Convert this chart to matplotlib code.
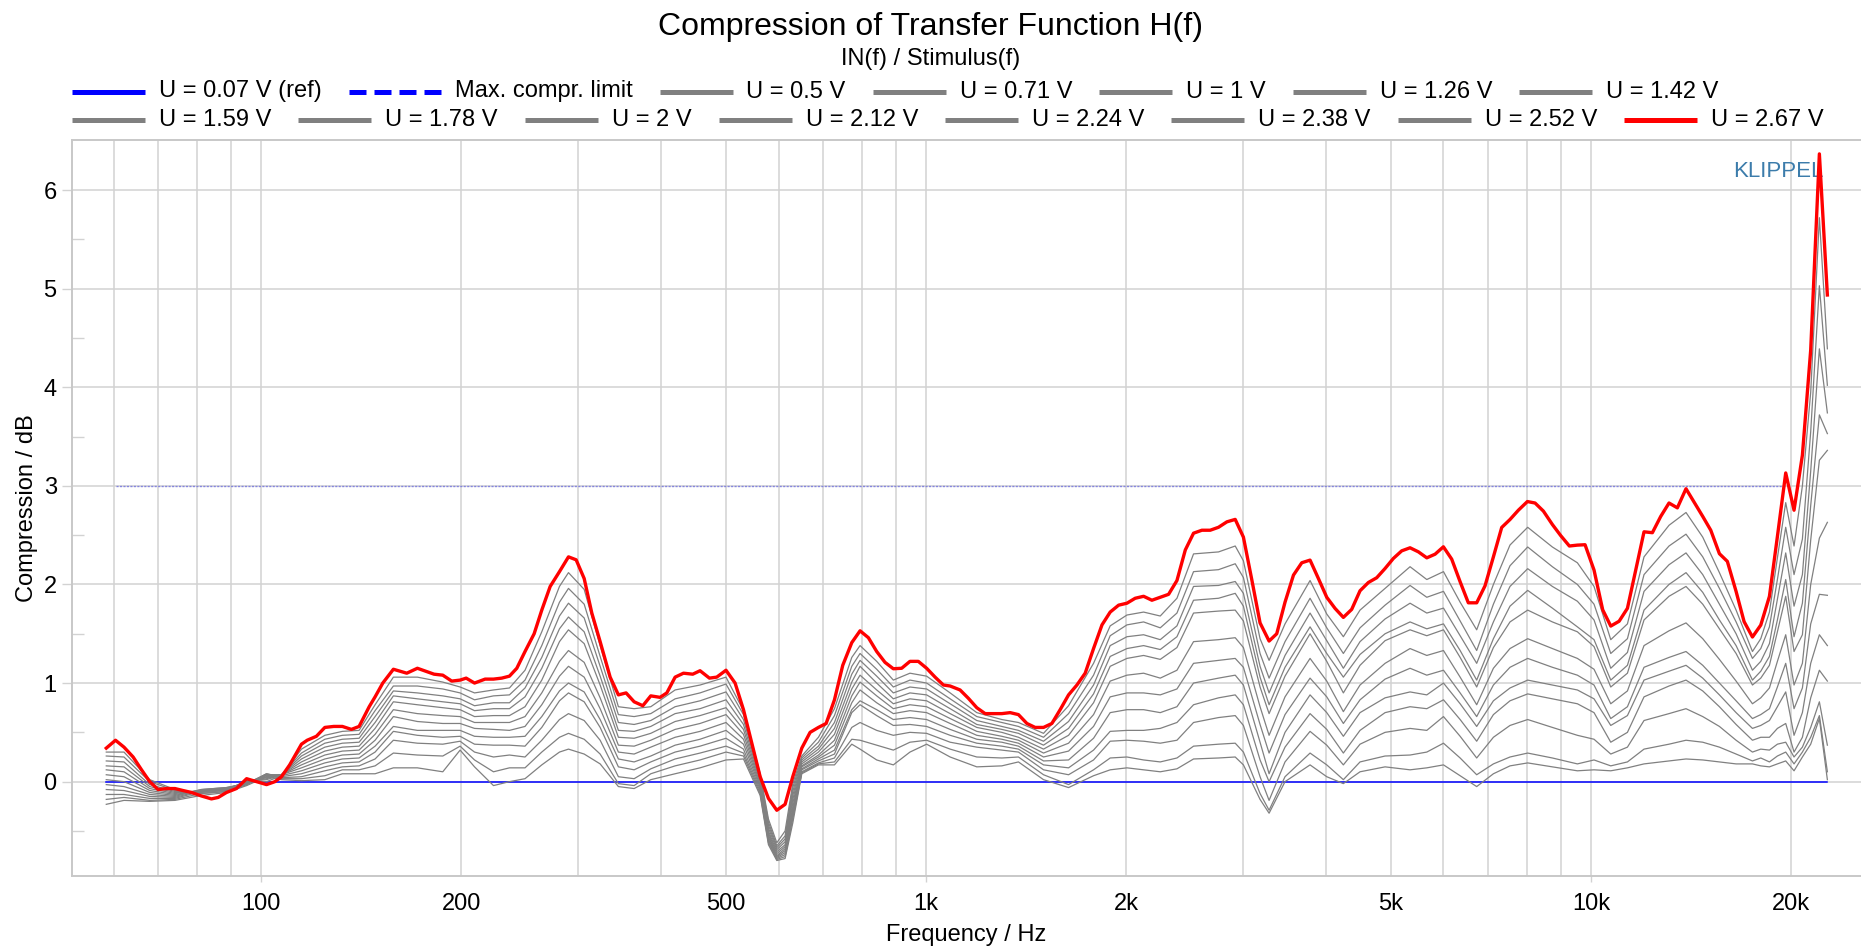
import matplotlib
matplotlib.use("Agg")
import matplotlib.pyplot as plt
from matplotlib.lines import Line2D
from matplotlib.ticker import FixedLocator, FuncFormatter
from matplotlib.offsetbox import DrawingArea, TextArea, HPacker, AnchoredOffsetbox

plt.rcParams['font.family'] = ['Liberation Sans', 'DejaVu Sans']

# ---- data ----
ref_freq = [58.5, 22670]
ref_db = [0.0, 0.0]

limit_freq = [60.4, 19625]
limit_db = [3.0, 3.0]

red_freq = [58.5, 60.4, 62.2, 64.2, 66.1, 68.0, 70.0, 72.1, 74.2, 76.3, 78.6, 81.3, 84.2, 86.2,
            88.7, 91.8, 95.1, 98.4, 101.9, 104.9, 107.3, 110.4, 115.0, 117.3, 121.1, 124.7, 128.6,
            132.5, 136.7, 140.4, 145.4, 148.4, 152.4, 158.1, 165.6, 171.8, 182, 187.6, 193.5, 199.2,
            203.4, 209.4, 217.2, 223.6, 230.1, 236.3, 242.4, 249.4, 257.4, 264.3, 272.1, 281, 289.9,
            297.7, 306.1, 314.3, 323.5, 334.9, 344.6, 353.9, 363.9, 375, 385.5, 398.1, 407.5, 419.4,
            431.7, 445.8, 457.2, 472.3, 484.4, 500.2, 516.2, 531.4, 546.9, 563, 579.4, 596.4, 613.8,
            630.3, 650.3, 669.3, 688.9, 707.5, 728.2, 749.4, 773.2, 795.7, 819, 842.9, 867.5, 892.9,
            919, 945.8, 973.5, 1002, 1031.8, 1061.9, 1087, 1125, 1158, 1192, 1227, 1263, 1300, 1338,
            1377, 1418, 1459, 1502, 1546, 1591, 1638, 1686, 1735, 1786, 1839, 1892, 1948, 2005, 2063,
            2124, 2186, 2250, 2316, 2384, 2454, 2525, 2599, 2675, 2753, 2834, 2917, 3001, 3089, 3179,
            3280, 3368, 3466, 3569, 3673, 3780, 3891, 4005, 4122, 4242, 4366, 4494, 4626, 4761, 4901,
            5044, 5192, 5344, 5500, 5663, 5828, 5998, 6173, 6356, 6539, 6731, 6928, 7132, 7340, 7554,
            7776, 8023, 8239, 8480, 8748, 9003, 9278, 9539, 9796, 10105, 10413, 10708, 11022, 11344,
            11676, 12015, 12368, 12730, 13101, 13485, 13895, 14288, 14724, 15139, 15599, 16034, 16527,
            16991, 17490, 18001, 18549, 19068, 19625, 20199, 20792, 21399, 22051, 22670]
red_db = [0.34, 0.42, 0.35, 0.25, 0.12, 0.00, -0.08, -0.07, -0.07, -0.09, -0.11, -0.145, -0.175, -0.16,
          -0.11, -0.07, 0.03, 0.00, -0.03, 0.00, 0.05, 0.17, 0.38, 0.42, 0.46, 0.55, 0.56,
          0.56, 0.53, 0.56, 0.76, 0.86, 1.00, 1.14, 1.10, 1.15, 1.09, 1.08, 1.02, 1.03,
          1.05, 1.00, 1.04, 1.04, 1.05, 1.07, 1.15, 1.32, 1.50, 1.74, 1.98, 2.13, 2.28,
          2.25, 2.06, 1.71, 1.42, 1.06, 0.88, 0.90, 0.81, 0.77, 0.87, 0.855, 0.90, 1.06,
          1.10, 1.09, 1.125, 1.05, 1.06, 1.13, 1.00, 0.73, 0.39, 0.05, -0.17, -0.29, -0.23,
          0.05, 0.34, 0.50, 0.55, 0.59, 0.83, 1.18, 1.41, 1.53, 1.46, 1.32, 1.21, 1.145,
          1.15, 1.22, 1.22, 1.15, 1.06, 0.98, 0.97, 0.93, 0.845, 0.75, 0.69, 0.69, 0.69, 0.70,
          0.68, 0.59, 0.55, 0.55, 0.59, 0.73, 0.88, 0.98, 1.10, 1.35, 1.59, 1.72, 1.79, 1.81, 1.86,
          1.88, 1.84, 1.87, 1.90, 2.04, 2.35, 2.52, 2.55, 2.55, 2.58, 2.635, 2.66, 2.48, 2.05, 1.61,
          1.426, 1.50, 1.82, 2.095, 2.22, 2.247, 2.06, 1.87, 1.757, 1.666, 1.747, 1.936, 2.02, 2.068, 2.162,
          2.264, 2.341, 2.372, 2.331, 2.27, 2.307, 2.382, 2.257, 2.027, 1.814, 1.814, 1.986, 2.28, 2.578, 2.659,
          2.753, 2.841, 2.826, 2.744, 2.608, 2.496, 2.39, 2.399, 2.403, 2.146, 1.743, 1.578, 1.627, 1.758,
          2.146, 2.534, 2.525, 2.69, 2.826, 2.777, 2.971, 2.835, 2.69, 2.55, 2.312, 2.234, 1.929,
          1.623, 1.467, 1.588, 1.879, 2.486, 3.131, 2.753, 3.311, 4.378, 6.367, 4.936]

gray_freq = [58.5, 62.2, 68.0, 74.2, 81.3, 88.7, 95.1, 101.9, 107.3, 115,
             124.7, 132.5, 140.4, 148.4, 158.1, 171.8, 187.6, 199.2, 209.4, 223.6,
             236.3, 249.4, 264.3, 281, 289.9, 306.1, 323.5, 344.6, 363.9, 385.5,
             419.4, 457.2, 500.2, 531.4, 563, 579.4, 596.4, 613.8, 630.3, 650.3,
             688.9, 728.2, 773.2, 795.7, 842.9, 892.9, 945.8, 1002, 1087, 1192,
             1300, 1377, 1502, 1638, 1786, 1892, 2005, 2124, 2250, 2384,
             2525, 2753, 2917, 3001, 3179, 3280, 3466, 3780, 4005, 4242,
             4494, 4901, 5344, 5663, 6000, 6356, 6731, 7132, 7554, 8031,
             8748, 9539, 10105, 10708, 11344, 12015, 13101, 13895, 14724, 15599,
             16527, 17490, 18001, 18549, 19068, 19625, 20199, 20792, 21399, 22051,
             22670]

u_050 = [-0.23, -0.19, -0.20, -0.19, -0.14, -0.11, -0.04, 0.05, 0.02, 0.01,
         0.02, 0.08, 0.08, 0.08, 0.14, 0.14, 0.10, 0.32, 0.15, -0.04,
         0.00, 0.03, 0.17, 0.30, 0.33, 0.28, 0.18, -0.05, -0.07, 0.02,
         0.08, 0.14, 0.22, 0.23, -0.14, -0.64, -0.80, -0.78, -0.42, 0.08,
         0.17, 0.17, 0.38, 0.33, 0.22, 0.17, 0.30, 0.38, 0.25, 0.15,
         0.16, 0.20, 0.02, -0.06, 0.06, 0.12, 0.14, 0.12, 0.10, 0.13,
         0.23, 0.24, 0.25, 0.17, -0.18, -0.32, 0.00, 0.17, 0.05, -0.02,
         0.10, 0.15, 0.12, 0.14, 0.17, 0.06, -0.05, 0.08, 0.16, 0.19,
         0.15, 0.11, 0.12, 0.11, 0.14, 0.18, 0.21, 0.23, 0.22, 0.20,
         0.18, 0.18, 0.16, 0.15, 0.18, 0.21, 0.11, 0.25, 0.38, 0.64,
         0.02]
u_071 = [-0.18, -0.16, -0.19, -0.18, -0.12, -0.10, -0.03, 0.07, 0.03, 0.03,
         0.06, 0.12, 0.12, 0.16, 0.29, 0.27, 0.26, 0.36, 0.22, 0.10,
         0.14, 0.14, 0.30, 0.45, 0.49, 0.43, 0.28, -0.02, -0.04, 0.08,
         0.16, 0.22, 0.30, 0.26, -0.12, -0.62, -0.79, -0.76, -0.38, 0.09,
         0.18, 0.20, 0.43, 0.42, 0.37, 0.32, 0.40, 0.42, 0.33, 0.25,
         0.24, 0.25, 0.07, -0.03, 0.12, 0.24, 0.25, 0.22, 0.20, 0.24,
         0.36, 0.38, 0.39, 0.30, -0.12, -0.29, 0.05, 0.29, 0.17, 0.02,
         0.20, 0.26, 0.27, 0.30, 0.39, 0.24, 0.07, 0.18, 0.25, 0.29,
         0.24, 0.18, 0.22, 0.16, 0.20, 0.33, 0.38, 0.42, 0.40, 0.35,
         0.28, 0.21, 0.24, 0.20, 0.26, 0.30, 0.18, 0.30, 0.45, 0.67,
         0.10]
u_100 = [-0.13, -0.13, -0.17, -0.17, -0.10, -0.08, -0.03, 0.08, 0.04, 0.05,
         0.11, 0.15, 0.16, 0.23, 0.42, 0.39, 0.38, 0.41, 0.30, 0.25,
         0.27, 0.25, 0.42, 0.63, 0.69, 0.62, 0.42, 0.05, 0.03, 0.13,
         0.23, 0.29, 0.36, 0.29, -0.10, -0.60, -0.78, -0.74, -0.35, 0.10,
         0.19, 0.24, 0.55, 0.60, 0.52, 0.47, 0.50, 0.49, 0.40, 0.35,
         0.32, 0.30, 0.12, 0.07, 0.22, 0.41, 0.42, 0.41, 0.39, 0.42,
         0.60, 0.65, 0.67, 0.57, 0.05, -0.19, 0.20, 0.51, 0.37, 0.17,
         0.38, 0.50, 0.54, 0.52, 0.66, 0.46, 0.24, 0.45, 0.57, 0.63,
         0.55, 0.47, 0.43, 0.28, 0.35, 0.62, 0.69, 0.74, 0.66, 0.56,
         0.42, 0.30, 0.33, 0.32, 0.38, 0.40, 0.25, 0.35, 0.55, 0.81,
         0.37]
u_126 = [-0.08, -0.09, -0.15, -0.16, -0.09, -0.07, -0.02, 0.08, 0.05, 0.08,
         0.15, 0.19, 0.20, 0.30, 0.51, 0.47, 0.45, 0.46, 0.38, 0.37,
         0.37, 0.36, 0.55, 0.82, 0.90, 0.81, 0.55, 0.15, 0.12, 0.20,
         0.30, 0.36, 0.44, 0.33, -0.08, -0.58, -0.77, -0.72, -0.32, 0.12,
         0.21, 0.28, 0.70, 0.78, 0.67, 0.57, 0.58, 0.56, 0.47, 0.39,
         0.36, 0.33, 0.17, 0.14, 0.32, 0.51, 0.52, 0.52, 0.54, 0.60,
         0.78, 0.85, 0.88, 0.78, 0.22, 0.00, 0.35, 0.69, 0.53, 0.29,
         0.52, 0.70, 0.76, 0.74, 0.83, 0.63, 0.41, 0.68, 0.82, 0.89,
         0.84, 0.79, 0.70, 0.40, 0.50, 0.86, 0.97, 1.03, 0.92, 0.76,
         0.58, 0.42, 0.45, 0.45, 0.54, 0.59, 0.30, 0.45, 0.85, 1.13,
         1.02]
u_142 = [-0.03, -0.05, -0.13, -0.15, -0.08, -0.06, -0.02, 0.07, 0.06, 0.11,
         0.19, 0.23, 0.24, 0.36, 0.56, 0.52, 0.52, 0.52, 0.46, 0.45,
         0.45, 0.46, 0.66, 0.92, 1.00, 0.91, 0.63, 0.23, 0.20, 0.26,
         0.37, 0.43, 0.52, 0.38, -0.06, -0.56, -0.76, -0.70, -0.29, 0.13,
         0.23, 0.32, 0.73, 0.82, 0.73, 0.63, 0.65, 0.63, 0.53, 0.43,
         0.40, 0.36, 0.21, 0.22, 0.44, 0.70, 0.73, 0.73, 0.70, 0.76,
         1.00, 1.05, 1.08, 0.98, 0.40, 0.08, 0.50, 0.88, 0.70, 0.46,
         0.70, 0.85, 0.91, 0.88, 1.00, 0.79, 0.56, 0.82, 0.95, 1.03,
         0.98, 0.93, 0.84, 0.57, 0.67, 1.03, 1.12, 1.18, 1.05, 0.88,
         0.70, 0.54, 0.57, 0.62, 0.76, 0.91, 0.47, 0.70, 1.20, 1.49,
         1.38]
u_159 = [0.02, 0.00, -0.11, -0.14, -0.08, -0.06, -0.02, 0.07, 0.07, 0.14,
         0.23, 0.27, 0.28, 0.42, 0.66, 0.61, 0.59, 0.59, 0.54, 0.53,
         0.52, 0.56, 0.78, 1.07, 1.17, 1.06, 0.74, 0.30, 0.28, 0.35,
         0.45, 0.51, 0.60, 0.43, -0.04, -0.54, -0.75, -0.68, -0.26, 0.15,
         0.25, 0.37, 0.80, 0.93, 0.80, 0.69, 0.72, 0.70, 0.59, 0.47,
         0.43, 0.39, 0.25, 0.31, 0.56, 0.86, 0.90, 0.90, 0.88, 0.94,
         1.20, 1.23, 1.25, 1.16, 0.58, 0.29, 0.68, 1.05, 0.86, 0.59,
         0.83, 1.04, 1.15, 1.08, 1.13, 0.90, 0.66, 0.98, 1.16, 1.25,
         1.16, 1.08, 0.98, 0.64, 0.76, 1.16, 1.26, 1.32, 1.18, 1.00,
         0.82, 0.64, 0.68, 0.74, 0.96, 1.20, 0.74, 0.95, 1.60, 1.90,
         1.89]
u_178 = [0.07, 0.05, -0.09, -0.13, -0.09, -0.07, -0.01, 0.06, 0.07, 0.17,
         0.27, 0.31, 0.32, 0.48, 0.73, 0.69, 0.67, 0.66, 0.60, 0.60,
         0.60, 0.66, 0.90, 1.22, 1.33, 1.21, 0.85, 0.37, 0.36, 0.42,
         0.53, 0.59, 0.68, 0.48, -0.02, -0.52, -0.73, -0.66, -0.22, 0.16,
         0.27, 0.42, 0.87, 1.01, 0.87, 0.74, 0.78, 0.76, 0.64, 0.51,
         0.46, 0.42, 0.29, 0.39, 0.68, 1.02, 1.08, 1.10, 1.05, 1.13,
         1.42, 1.44, 1.46, 1.36, 0.76, 0.47, 0.86, 1.25, 1.02, 0.71,
         0.98, 1.20, 1.35, 1.28, 1.33, 1.06, 0.78, 1.15, 1.35, 1.45,
         1.35, 1.25, 1.14, 0.79, 0.92, 1.38, 1.53, 1.61, 1.45, 1.24,
         1.02, 0.79, 0.85, 0.95, 1.22, 1.49, 0.98, 1.20, 2.00, 2.47,
         2.63]
u_200 = [0.12, 0.10, -0.07, -0.12, -0.09, -0.07, -0.01, 0.05, 0.07, 0.20,
         0.31, 0.35, 0.36, 0.54, 0.81, 0.78, 0.75, 0.73, 0.66, 0.67,
         0.67, 0.76, 1.03, 1.42, 1.54, 1.40, 0.98, 0.45, 0.44, 0.49,
         0.61, 0.67, 0.75, 0.53, 0.00, -0.50, -0.71, -0.64, -0.18, 0.18,
         0.30, 0.48, 0.94, 1.08, 0.93, 0.79, 0.84, 0.82, 0.69, 0.55,
         0.50, 0.45, 0.33, 0.47, 0.80, 1.17, 1.25, 1.28, 1.24, 1.36,
         1.71, 1.73, 1.74, 1.63, 0.96, 0.69, 1.07, 1.50, 1.22, 0.90,
         1.18, 1.43, 1.54, 1.48, 1.54, 1.26, 0.96, 1.36, 1.62, 1.74,
         1.62, 1.52, 1.37, 0.96, 1.10, 1.64, 1.88, 1.98, 1.80, 1.55,
         1.30, 0.98, 1.05, 1.18, 1.52, 1.88, 1.32, 1.49, 2.45, 3.26,
         3.36]
u_212 = [0.16, 0.15, -0.05, -0.11, -0.10, -0.08, 0.00, 0.04, 0.07, 0.23,
         0.35, 0.39, 0.40, 0.60, 0.87, 0.84, 0.81, 0.79, 0.72, 0.74,
         0.74, 0.86, 1.15, 1.55, 1.67, 1.52, 1.07, 0.52, 0.51, 0.56,
         0.69, 0.74, 0.83, 0.58, 0.02, -0.47, -0.69, -0.61, -0.14, 0.20,
         0.33, 0.54, 1.01, 1.17, 1.00, 0.84, 0.90, 0.88, 0.74, 0.58,
         0.53, 0.49, 0.37, 0.54, 0.89, 1.27, 1.35, 1.38, 1.34, 1.47,
         1.84, 1.86, 1.91, 1.78, 1.06, 0.78, 1.16, 1.57, 1.30, 1.06,
         1.29, 1.50, 1.62, 1.55, 1.60, 1.33, 1.03, 1.45, 1.78, 1.94,
         1.76, 1.57, 1.44, 1.03, 1.18, 1.74, 2.00, 2.12, 1.92, 1.64,
         1.38, 1.03, 1.12, 1.27, 1.64, 2.05, 1.47, 1.81, 2.80, 3.72,
         3.53]
u_224 = [0.21, 0.20, -0.03, -0.10, -0.10, -0.08, 0.00, 0.03, 0.07, 0.26,
         0.39, 0.43, 0.44, 0.66, 0.92, 0.90, 0.87, 0.84, 0.77, 0.80,
         0.80, 0.95, 1.26, 1.68, 1.81, 1.66, 1.17, 0.60, 0.58, 0.62,
         0.76, 0.82, 0.91, 0.63, 0.04, -0.44, -0.67, -0.58, -0.10, 0.22,
         0.36, 0.60, 1.09, 1.23, 1.07, 0.90, 0.96, 0.94, 0.79, 0.62,
         0.56, 0.52, 0.41, 0.61, 0.98, 1.38, 1.47, 1.49, 1.44, 1.58,
         1.98, 1.99, 2.03, 1.91, 1.17, 0.90, 1.28, 1.71, 1.43, 1.15,
         1.42, 1.65, 1.81, 1.71, 1.76, 1.48, 1.20, 1.62, 1.98, 2.16,
         1.98, 1.83, 1.64, 1.15, 1.31, 1.93, 2.20, 2.32, 2.10, 1.80,
         1.50, 1.13, 1.22, 1.40, 1.85, 2.32, 1.78, 2.10, 3.15, 4.39,
         3.74]
u_238 = [0.26, 0.25, 0.00, -0.09, -0.11, -0.09, 0.01, 0.02, 0.07, 0.29,
         0.43, 0.47, 0.48, 0.72, 0.97, 0.97, 0.94, 0.90, 0.83, 0.87,
         0.88, 1.03, 1.38, 1.82, 1.96, 1.80, 1.27, 0.68, 0.66, 0.69,
         0.84, 0.90, 0.99, 0.68, 0.06, -0.41, -0.65, -0.55, -0.06, 0.24,
         0.40, 0.67, 1.17, 1.30, 1.14, 0.96, 1.03, 1.00, 0.84, 0.66,
         0.60, 0.56, 0.45, 0.69, 1.08, 1.48, 1.59, 1.62, 1.56, 1.71,
         2.13, 2.15, 2.21, 2.07, 1.30, 1.05, 1.42, 1.86, 1.56, 1.30,
         1.56, 1.79, 1.99, 1.87, 1.93, 1.63, 1.33, 1.80, 2.19, 2.38,
         2.18, 2.00, 1.80, 1.30, 1.45, 2.10, 2.39, 2.51, 2.28, 1.96,
         1.62, 1.25, 1.35, 1.57, 2.05, 2.58, 2.10, 2.46, 3.55, 5.03,
         4.02]
u_252 = [0.30, 0.30, 0.02, -0.08, -0.12, -0.10, 0.02, 0.00, 0.06, 0.33,
         0.47, 0.51, 0.52, 0.78, 1.06, 1.06, 1.01, 0.96, 0.90, 0.93,
         0.95, 1.13, 1.52, 1.98, 2.12, 1.95, 1.38, 0.76, 0.74, 0.76,
         0.93, 0.98, 1.06, 0.72, 0.08, -0.38, -0.62, -0.50, -0.02, 0.26,
         0.45, 0.74, 1.26, 1.38, 1.22, 1.03, 1.10, 1.07, 0.90, 0.70,
         0.63, 0.60, 0.49, 0.77, 1.20, 1.58, 1.69, 1.72, 1.68, 1.86,
         2.31, 2.33, 2.39, 2.24, 1.45, 1.23, 1.60, 2.04, 1.70, 1.47,
         1.74, 1.96, 2.18, 2.05, 2.13, 1.82, 1.54, 2.00, 2.40, 2.58,
         2.38, 2.22, 1.98, 1.44, 1.60, 2.28, 2.60, 2.73, 2.48, 2.12,
         1.74, 1.32, 1.45, 1.72, 2.27, 2.83, 2.39, 3.00, 3.95, 5.72,
         4.39]

gray_series = [u_050, u_071, u_100, u_126, u_142, u_159, u_178, u_200,
               u_212, u_224, u_238, u_252]
gray_labels = ["U = 0.5 V", "U = 0.71 V", "U = 1 V", "U = 1.26 V", "U = 1.42 V",
               "U = 1.59 V", "U = 1.78 V", "U = 2 V", "U = 2.12 V", "U = 2.24 V",
               "U = 2.38 V", "U = 2.52 V"]

x_major = [100, 1000, 10000]
x_major_labels = ["100", "1k", "10k"]
x_minor = [60, 70, 80, 90, 200, 300, 400, 500, 600, 700, 800, 900,
           2000, 3000, 4000, 5000, 6000, 7000, 8000, 9000, 20000]
x_minor_labels = {200: "200", 500: "500", 2000: "2k", 5000: "5k", 20000: "20k"}

GRAY = "#808080"
BLUE = "#0000ff"
RED = "#ff0000"
GRID = "#d2d2d2"
FS = 17

fig = plt.figure(figsize=(18.61, 9.5), dpi=100)
ax = fig.add_axes([0.03853, 0.07758, 0.96147, 0.77526])
ax.set_xscale("log")

ax.plot(ref_freq, ref_db, color=BLUE, lw=1.1, zorder=3)
ax.plot(limit_freq, limit_db, color="#7070e0", lw=1.0, ls=(0, (1.5, 1)), alpha=0.8, zorder=3)
for vals in gray_series:
    ax.plot(gray_freq, vals, color=GRAY, lw=0.9, zorder=4)
ax.plot(red_freq, red_db, color=RED, lw=2.4, zorder=5)

ax.set_xlim(51.9, 25470)
ax.set_ylim(-0.96, 6.51)

ax.xaxis.set_major_locator(FixedLocator(x_major))
ax.xaxis.set_major_formatter(FuncFormatter(lambda v, p: x_major_labels[x_major.index(round(v))]
                                           if round(v) in x_major else ""))
ax.xaxis.set_minor_locator(FixedLocator(x_minor))
ax.xaxis.set_minor_formatter(FuncFormatter(lambda v, p: x_minor_labels.get(round(v), "")))
ax.yaxis.set_major_locator(FixedLocator([0, 1, 2, 3, 4, 5, 6]))
ax.yaxis.set_minor_locator(FixedLocator([-0.5, 0.5, 1.5, 2.5, 3.5, 4.5, 5.5]))

ax.set_axisbelow(True)
ax.xaxis.grid(True, which="both", color=GRID, lw=1.1)
ax.yaxis.grid(True, which="major", color=GRID, lw=1.1)

ax.tick_params(axis="x", which="major", direction="out", length=4.3, width=1, color=GRID,
               pad=7.9, labelsize=FS)
ax.tick_params(axis="x", which="minor", length=0, pad=12.2, labelsize=FS)
ax.tick_params(axis="y", which="major", direction="out", length=7.2, width=1, color=GRID,
               pad=3.6, labelsize=FS)
ax.tick_params(axis="y", which="minor", direction="in", length=8.6, width=1, color=GRID)

for side in ["left", "bottom", "top"]:
    ax.spines[side].set_color("#c8c8c8")
    ax.spines[side].set_linewidth(1.4)
ax.spines["right"].set_visible(False)

ax.set_xlabel("Frequency / Hz", fontsize=FS)
ax.xaxis.set_label_coords(0.5, -0.0797)
ax.xaxis.label.set_va("center")
ax.set_ylabel("Compression / dB", fontsize=FS)
ax.yaxis.set_label_coords(-0.0252, 0.5)
ax.yaxis.label.set_va("center")

ax.text(0.9788, 0.9568, "KLIPPEL", transform=ax.transAxes, ha="right", va="center",
        fontsize=16, color="#3c7cab")

fig.text(0.5, 1 - 26.5 / 950, "Compression of Transfer Function H(f)", ha="center", va="center",
         fontsize=23)
fig.text(0.5, 1 - 58.5 / 950, "IN(f) / Stimulus(f)", ha="center", va="center", fontsize=FS)

# legend: two rows of entries laid out left to right
PT = 72 / 100  # points per pixel at 100 dpi


def entry(color, label, ls="-", length_px=73):
    da = DrawingArea(length_px * PT, 14 * PT, 0, 0)
    da.add_artist(Line2D([0, length_px * PT], [7 * PT, 7 * PT], color=color, lw=3.6,
                         ls=ls, solid_capstyle="butt", dash_capstyle="butt"))
    ta = TextArea(label, textprops=dict(fontsize=FS))
    return HPacker(children=[da, ta], align="center", pad=0, sep=14 * PT)


row1 = [entry(BLUE, "U = 0.07 V (ref)"),
        entry(BLUE, "Max. compr. limit", ls=(0, (3.4, 1.6)), length_px=92)]
row1 += [entry(GRAY, lab) for lab in gray_labels[:5]]
row2 = [entry(GRAY, lab) for lab in gray_labels[5:]] + [entry(RED, "U = 2.67 V")]

for entries, y_px in [(row1, 91.5), (row2, 120.0)]:
    box = HPacker(children=entries, align="center", pad=0, sep=27 * PT)
    anchored = AnchoredOffsetbox(loc="center left", child=box, pad=0, borderpad=0,
                                 frameon=False, bbox_to_anchor=(72 / 1861, 1 - y_px / 950),
                                 bbox_transform=fig.transFigure)
    fig.add_artist(anchored)

fig.savefig("out.png", dpi=100)
